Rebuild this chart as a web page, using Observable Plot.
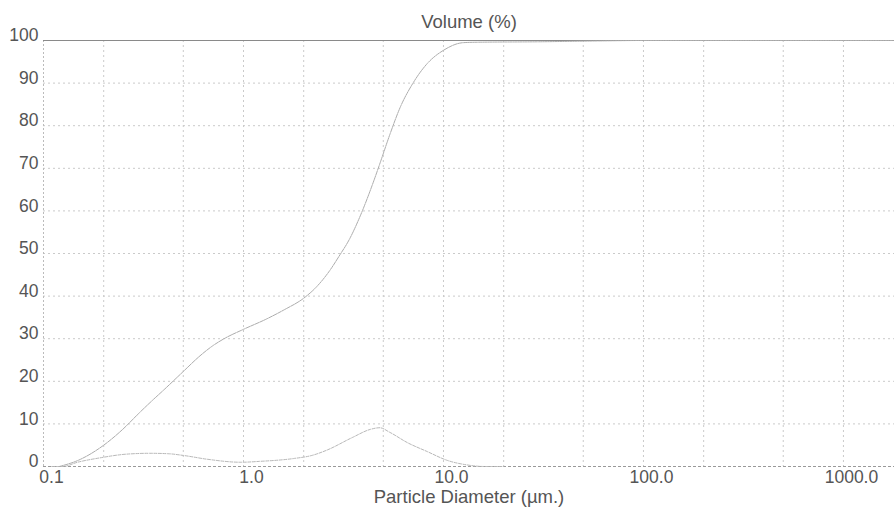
<!DOCTYPE html>
<html>
<head>
<meta charset="utf-8">
<script src="https://cdn.jsdelivr.net/npm/d3@7"></script>
<script src="https://cdn.jsdelivr.net/npm/@observablehq/plot@0.6"></script>
<style>
  html, body { margin: 0; padding: 0; background: #fff; }
  #chart svg { display: block; }
</style>
</head>
<body>
<div id="chart"></div>
<script>
// Cumulative volume (%) vs particle diameter (µm)
const cumDiameter = [0.12, 0.15, 0.2, 0.25, 0.3, 0.35, 0.4, 0.5, 0.6, 0.7, 0.8, 1.0, 1.3, 1.6, 2.0, 2.3, 2.7, 3.0, 3.4, 3.85, 4.4, 4.8, 5.4, 6.1, 7.0, 8.3, 10, 12.6, 15, 30, 60, 100, 1800];
const cumVolume   = [0, 1.5, 5, 8.8, 12.5, 15.5, 18, 22.3, 25.8, 28.3, 30, 32.2, 34.6, 36.8, 39.5, 42, 46, 49.3, 53.5, 59, 66, 71, 78, 84.5, 89.8, 94.6, 97.7, 99.5, 99.6, 99.7, 99.9, 100, 100];
// Volume distribution (%) vs particle diameter (µm)
const distDiameter = [0.11, 0.125, 0.148, 0.19, 0.26, 0.34, 0.42, 0.5, 0.66, 0.97, 1.2, 1.8, 2.2, 2.6, 3.5, 4.3, 4.8, 5.4, 6.6, 8.3, 10.5, 13, 16, 20];
const distVolume   = [0, 0, 1, 2, 2.9, 3.1, 3.0, 2.6, 1.7, 1.0, 1.2, 1.9, 2.6, 3.8, 6.8, 8.7, 9.1, 8, 5.6, 3.5, 1.4, 0.4, 0, 0];

const xTickValues = [0.1, 1, 10, 100, 1000];
const xTickLabels = ["0.1", "1.0", "10.0", "100.0", "1000.0"];
const xGridValues = [0.2, 0.5, 1, 2, 5, 10, 20, 50, 100, 200, 500, 1000];
const yTickValues = [0, 10, 20, 30, 40, 50, 60, 70, 80, 90, 100];
const titleText = "Volume (%)";
const xLabelText = "Particle Diameter (µm.)";

const cumData = cumDiameter.map((d, i) => ({d, v: cumVolume[i]}));
const distData = distDiameter.map((d, i) => ({d, v: distVolume[i]}));

const gridColor = "#cacaca";
const textColor = "#555";

const chart = Plot.plot({
  width: 894,
  height: 508,
  marginLeft: 43,
  marginRight: 0,
  marginTop: 40,
  marginBottom: 42,
  style: {fontFamily: "'Liberation Sans', Arial, sans-serif", background: "#fff"},
  x: {type: "log", domain: [0.1, 1800]},
  y: {domain: [0, 100]},
  marks: [
    Plot.gridY(yTickValues, {stroke: gridColor, strokeOpacity: 1, strokeDasharray: "2,3"}),
    Plot.gridX(xGridValues, {stroke: gridColor, strokeOpacity: 1, strokeDasharray: "2,3"}),
    Plot.ruleX([0.1], {stroke: "#bbb", strokeDasharray: "2,2"}),
    Plot.ruleY([0], {stroke: "#999", strokeDasharray: "3,2"}),
    Plot.ruleY([100], {stroke: "#8a8a8a", strokeWidth: 1.2}),
    Plot.line(distData, {x: "d", y: "v", stroke: "#b8b8b8", strokeWidth: 1, strokeDasharray: "3,1.5", curve: "monotone-x"}),
    Plot.line(cumData, {x: "d", y: "v", stroke: "#adadad", strokeWidth: 1, strokeDasharray: "4,1", curve: "monotone-x"}),
    Plot.axisY({ticks: yTickValues, tickSize: 0, tickPadding: 5, dy: -5, fontSize: 17.5, fill: textColor, label: null}),
    Plot.axisX({ticks: xTickValues, tickFormat: (d) => xTickLabels[xTickValues.indexOf(d)], tickSize: 0, tickPadding: 4, dx: 8, fontSize: 17.5, fill: textColor, label: null}),
    Plot.text([titleText], {frameAnchor: "top", dy: -13, lineAnchor: "bottom", fontSize: 18.5, fill: textColor}),
    Plot.text([xLabelText], {frameAnchor: "bottom", dy: 36, lineAnchor: "bottom", fontSize: 18.5, fill: textColor})
  ]
});
document.getElementById("chart").appendChild(chart);
</script>
</body>
</html>
